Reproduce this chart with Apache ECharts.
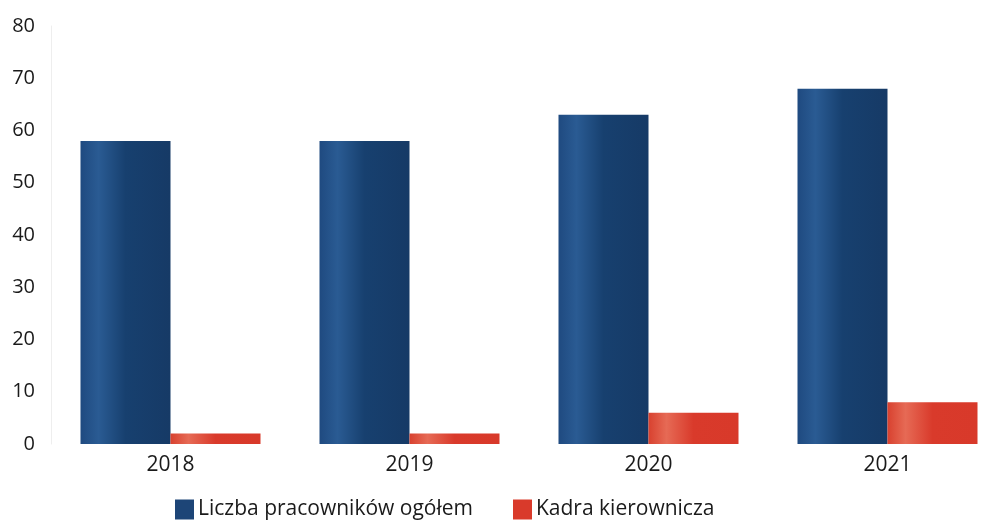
<!DOCTYPE html>
<html lang="pl">
<head>
  <meta charset="UTF-8" />
  <title>Zatrudnienie 2018-2021</title>
  <script src="https://cdn.jsdelivr.net/npm/echarts@6/dist/echarts.min.js"></script>
  <style>
    body { margin: 0; padding: 0; background: #fff; }
    #main { width: 993px; height: 524px; }
  </style>
</head>
<body>
  <div id="main"></div>
  <script>
    const years = ['2018', '2019', '2020', '2021'];
    const ogolem = [58, 58, 63, 68];
    const kadra = [2, 2, 6, 8];

    const chart = echarts.init(document.getElementById('main'));

    const blue = new echarts.graphic.LinearGradient(0, 0, 1, 0, [
      { offset: 0, color: '#1f4a80' },
      { offset: 0.2, color: '#2a5b93' },
      { offset: 0.5, color: '#17406f' },
      { offset: 1, color: '#163a66' }
    ]);
    const red = new echarts.graphic.LinearGradient(0, 0, 1, 0, [
      { offset: 0, color: '#d8412f' },
      { offset: 0.2, color: '#e66a55' },
      { offset: 0.5, color: '#d93a2b' },
      { offset: 1, color: '#d8392a' }
    ]);

    chart.setOption({
      animation: false,
      textStyle: { fontFamily: 'Open Sans' },
      grid: { left: 51, top: 26, width: 956, height: 418, outerBoundsMode: 'none' },
      legend: {
        bottom: -1,
        left: 170,
        itemWidth: 19,
        itemHeight: 20,
        itemGap: 40,
        textStyle: { fontSize: 21, color: '#1a1a1a', padding: [0, 0, 0, -1] },
        data: [
          { name: 'Liczba pracowników ogółem', icon: 'rect', itemStyle: { color: '#1d4577' } },
          { name: 'Kadra kierownicza', icon: 'rect', itemStyle: { color: '#d93a2b' } }
        ]
      },
      xAxis: {
        type: 'category',
        data: years,
        axisLine: { show: false },
        axisTick: { show: false },
        axisLabel: { fontSize: 21, color: '#1a1a1a', margin: 11 }
      },
      yAxis: {
        type: 'value',
        min: 0,
        max: 80,
        interval: 10,
        splitLine: { show: false },
        axisLine: { show: true, lineStyle: { color: '#eeeeee' } },
        axisLabel: { fontSize: 20, color: '#1a1a1a', margin: 16 }
      },
      series: [
        {
          name: 'Liczba pracowników ogółem',
          type: 'bar',
          data: ogolem,
          barWidth: 90,
          barGap: '0%',
          itemStyle: { color: blue }
        },
        {
          name: 'Kadra kierownicza',
          type: 'bar',
          data: kadra,
          barWidth: 90,
          itemStyle: { color: red }
        }
      ]
    });
  </script>
</body>
</html>
